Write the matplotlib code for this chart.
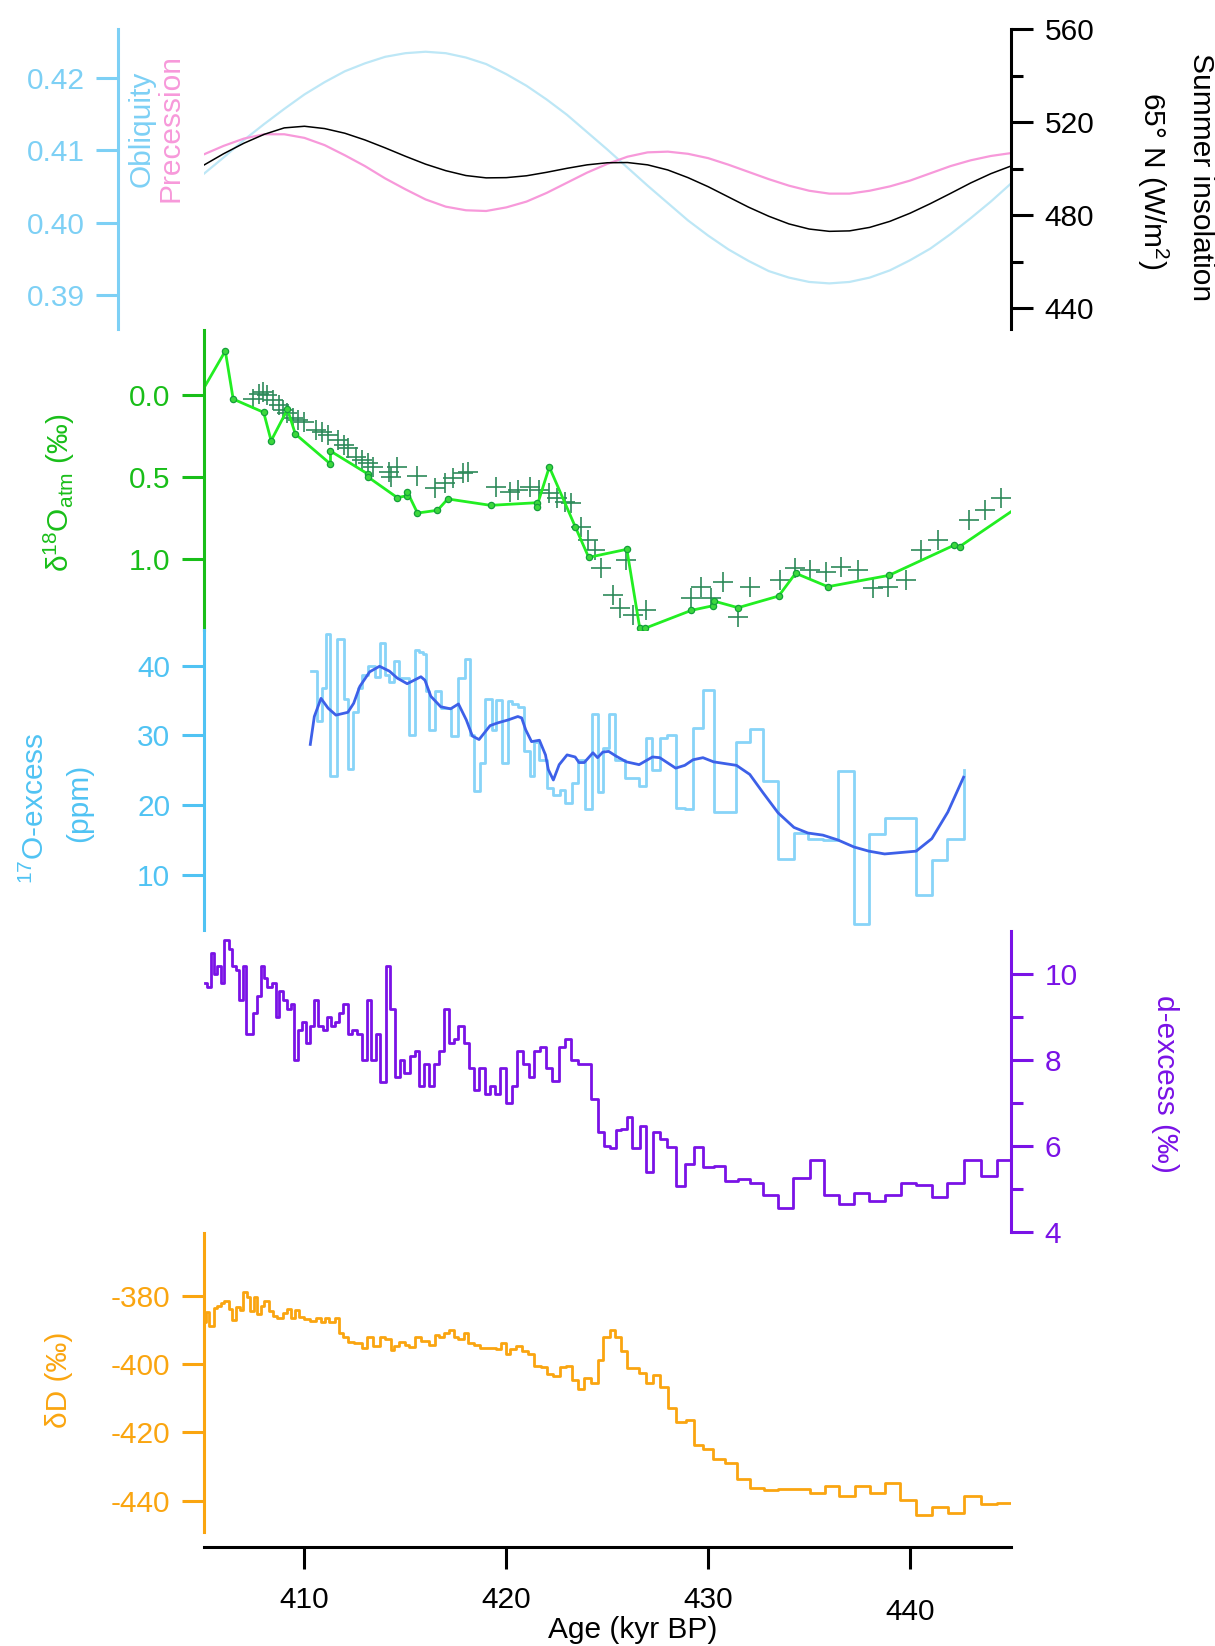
import matplotlib
matplotlib.use("Agg")
import matplotlib.pyplot as plt
import matplotlib.transforms as mtransforms
import numpy as np

plt.rcParams["font.family"] = "Liberation Sans"
plt.rcParams["mathtext.fontset"] = "custom"
plt.rcParams["mathtext.rm"] = "Liberation Sans"
plt.rcParams["mathtext.it"] = "Liberation Sans:italic"
plt.rcParams["mathtext.bf"] = "Liberation Sans:bold"
plt.rcParams["axes.unicode_minus"] = False

# ---- orbital parameters (1 kyr sampling) ----
orb_age = np.arange(405, 446)
obliquity = [0.4067, 0.4090, 0.4114, 0.4136, 0.4157, 0.4177, 0.4194, 0.4209, 0.4220, 0.4229,
             0.4234, 0.4236, 0.4234, 0.4228, 0.4219, 0.4205, 0.4189, 0.4170, 0.4149, 0.4125,
             0.4101, 0.4076, 0.4051, 0.4027, 0.4003, 0.3982, 0.3963, 0.3947, 0.3933, 0.3924,
             0.3918, 0.3916, 0.3918, 0.3924, 0.3934, 0.3948, 0.3964, 0.3984, 0.4006, 0.4029,
             0.4054]
# precession drawn on the obliquity scale (no axis of its own in the figure)
precession = [0.4094, 0.4106, 0.4116, 0.4122, 0.4122, 0.4117, 0.4107, 0.4093, 0.4078, 0.4061,
              0.4046, 0.4032, 0.4022, 0.4017, 0.4016, 0.4021, 0.4029, 0.4041, 0.4055, 0.4069,
              0.4081, 0.4091, 0.4097, 0.4098, 0.4095, 0.4089, 0.4080, 0.4070, 0.4060, 0.4051,
              0.4044, 0.4040, 0.4040, 0.4044, 0.4050, 0.4058, 0.4068, 0.4078, 0.4086, 0.4092,
              0.4096]
insolation = [501.5, 506.5, 511.0, 514.8, 517.6, 518.3, 517.3, 515.3, 512.4, 509.0,
              505.4, 502.0, 499.2, 497.1, 496.1, 496.2, 497.0, 498.5, 500.2, 501.7,
              502.6, 502.7, 501.7, 499.5, 496.2, 492.3, 487.9, 483.5, 479.6, 476.3,
              474.1, 473.1, 473.3, 474.8, 477.4, 480.9, 485.0, 489.4, 493.9, 497.9,
              501.2]

# ---- d18O atm ----
d18_age = [405.0, 406.08, 406.47, 407.98, 408.35, 409.16, 409.55, 411.29, 411.29, 413.17,
           413.17, 414.60, 415.09, 415.09, 415.60, 416.59, 417.10, 419.22, 421.51, 421.51,
           422.13, 423.42, 424.08, 425.97, 426.61, 426.88, 429.17, 430.24, 430.27, 431.48,
           433.49, 434.33, 435.93, 438.95, 442.20, 442.45, 445.0]
d18_val = [-0.04, -0.27, 0.023, 0.104, 0.277, 0.086, 0.236, 0.419, 0.340, 0.482,
           0.500, 0.624, 0.612, 0.588, 0.718, 0.701, 0.632, 0.671, 0.655, 0.679,
           0.437, 0.803, 0.988, 0.939, 1.42, 1.42, 1.311, 1.283, 1.254, 1.295,
           1.224, 1.085, 1.167, 1.098, 0.913, 0.923, 0.710]
cross_age = [407.45, 407.75, 407.94, 408.14, 408.43, 408.73, 408.92, 409.12, 409.41, 409.70,
             410.00, 410.59, 410.88, 411.17, 411.66, 411.96, 412.15, 412.54, 412.84, 413.13,
             413.42, 414.21, 414.60, 414.30, 415.58, 416.46, 416.95, 417.34, 417.83, 418.12,
             419.49, 420.18, 420.57, 421.16, 421.64, 422.13, 422.52, 422.92, 423.21, 423.72,
             424.05, 424.38, 424.71, 425.29, 425.62, 425.95, 426.28, 426.94, 429.17, 429.66,
             430.16, 430.73, 431.48, 432.06, 433.54, 434.28, 435.03, 435.85, 436.59, 437.42,
             438.16, 438.90, 439.81, 440.55, 441.38, 442.94, 443.69, 444.51]
cross_val = [0.025, -0.008, -0.022, -0.002, 0.029, 0.059, 0.090, 0.110, 0.141, 0.151,
             0.161, 0.212, 0.222, 0.242, 0.273, 0.303, 0.324, 0.374, 0.395, 0.415,
             0.435, 0.466, 0.435, 0.496, 0.492, 0.567, 0.537, 0.506, 0.476, 0.466,
             0.557, 0.588, 0.578, 0.557, 0.578, 0.598, 0.628, 0.649, 0.659, 0.801,
             0.882, 0.943, 1.055, 1.218, 1.299, 1.004, 1.340, 1.309, 1.238, 1.167,
             1.238, 1.137, 1.350, 1.167, 1.126, 1.055, 1.065, 1.076, 1.045, 1.065,
             1.177, 1.167, 1.126, 0.943, 0.882, 0.760, 0.700, 0.628]

# ---- 17O-excess ----
o17_age = [410.33, 410.64, 410.88, 411.07, 411.27, 411.60, 411.96, 412.15, 412.41, 412.64,
           412.84, 413.13, 413.52, 413.76, 414.01, 414.21, 414.46, 414.70, 415.19, 415.48,
           415.67, 415.87, 416.00, 416.16, 416.46, 416.75, 417.24, 417.63, 417.93, 418.22,
           418.41, 418.71, 418.96, 419.30, 419.49, 419.78, 420.08, 420.27, 420.57, 420.86,
           421.16, 421.35, 421.64, 422.04, 422.29, 422.65, 422.90, 423.23, 423.56, 423.89,
           424.22, 424.55, 424.79, 425.09, 425.37, 425.87, 426.58, 426.91, 427.24, 427.60,
           427.96, 428.39, 428.84, 429.25, 429.74, 430.27, 431.40, 432.06, 432.71, 433.46,
           434.25, 434.94, 435.68, 436.43, 437.22, 437.96, 438.74, 440.30, 441.08, 441.84,
           442.65]
o17_val = [39.2, 32.0, 36.8, 44.5, 24.2, 43.8, 35.2, 25.2, 33.4, 36.8,
           38.7, 40.0, 38.3, 43.3, 38.7, 37.6, 40.6, 38.2, 30.1, 42.2,
           41.9, 41.7, 36.3, 30.7, 36.3, 33.9, 29.9, 38.2, 41.0, 30.1,
           22.0, 26.0, 35.2, 30.8, 35.0, 26.0, 34.9, 34.5, 34.0, 27.7,
           24.2, 29.0, 26.5, 22.5, 21.5, 22.2, 20.3, 23.2, 26.5, 19.4,
           33.0, 21.9, 28.2, 33.1, 26.5, 23.9, 22.7, 29.6, 25.1, 29.6,
           30.1, 19.6, 19.4, 31.0, 36.5, 19.0, 29.1, 30.9, 23.4, 12.3,
           16.0, 15.2, 15.0, 24.9, 3.0, 15.8, 18.2, 7.1, 12.1, 15.1,
           25.1]
o17s_age = [410.29, 410.49, 410.82, 411.17, 411.56, 412.15, 412.44, 412.74, 413.23, 413.72,
            414.21, 414.60, 415.09, 415.77, 415.97, 416.26, 416.75, 417.24, 417.63, 418.02,
            418.32, 418.65, 419.20, 419.59, 420.08, 420.57, 420.76, 420.96, 421.25, 421.64,
            421.94, 422.08, 422.33, 422.62, 423.01, 423.41, 423.60, 423.86, 424.29, 424.52,
            424.78, 425.07, 425.45, 425.95, 426.58, 427.24, 427.60, 428.39, 428.84, 429.25,
            429.74, 430.27, 431.40, 432.06, 432.71, 433.46, 434.25, 434.94, 435.68, 436.43,
            437.22, 437.96, 438.74, 440.30, 441.08, 441.87, 442.65]
o17s_val = [28.7, 32.7, 35.3, 33.9, 32.9, 33.3, 34.6, 37.0, 39.1, 39.9,
            39.2, 38.2, 37.4, 38.4, 37.9, 35.6, 34.1, 33.8, 34.5, 32.2,
            29.9, 29.4, 31.4, 31.8, 32.2, 32.7, 32.5, 30.8, 29.1, 29.3,
            27.2, 25.1, 23.6, 25.8, 27.2, 26.9, 26.1, 26.1, 27.5, 26.8,
            27.6, 27.7, 27.0, 26.2, 25.8, 26.9, 26.8, 25.3, 25.7, 26.5,
            26.8, 26.2, 25.7, 24.4, 21.8, 18.9, 16.8, 16.0, 15.7, 15.0,
            14.0, 13.4, 13.0, 13.4, 15.2, 19.0, 24.0]

# ---- d-excess ----
dex_age = [405.07, 405.16, 405.36, 405.54, 405.69, 405.85, 406.03, 406.26, 406.43, 406.61,
           406.77, 406.94, 407.10, 407.47, 407.67, 407.83, 408.01, 408.16, 408.37, 408.59,
           408.75, 408.95, 409.15, 409.32, 409.48, 409.69, 409.86, 410.06, 410.27, 410.47,
           410.69, 410.90, 411.10, 411.30, 411.51, 411.72, 411.92, 412.14, 412.38, 412.58,
           412.83, 413.08, 413.29, 413.54, 413.74, 414.02, 414.23, 414.48, 414.73, 414.94,
           415.22, 415.47, 415.68, 415.93, 416.18, 416.43, 416.67, 416.92, 417.17, 417.40,
           417.61, 417.90, 418.13, 418.39, 418.65, 418.93, 419.18, 419.43, 419.71, 419.97,
           420.26, 420.55, 420.83, 421.11, 421.36, 421.66, 421.95, 422.27, 422.61, 422.90,
           423.22, 423.55, 424.20, 424.54, 424.84, 425.14, 425.44, 425.68, 426.00, 426.25,
           426.61, 426.91, 427.25, 427.61, 427.95, 428.41, 428.85, 429.29, 429.75, 430.30,
           430.82, 431.46, 432.06, 432.72, 433.46, 434.22, 435.03, 435.73, 436.47, 437.23,
           437.97, 438.74, 439.54, 440.28, 441.08, 441.84, 442.69, 443.49, 444.29, 445.0]
dex_val = [9.78, 9.69, 10.49, 10.00, 10.19, 9.79, 10.79, 10.58, 10.19, 10.08,
           9.40, 10.19, 8.59, 9.09, 9.48, 10.19, 9.90, 9.69, 9.79, 8.99,
           9.59, 9.40, 9.19, 9.29, 8.00, 8.69, 8.89, 8.39, 8.79, 9.40,
           8.79, 8.69, 8.99, 8.79, 8.89, 9.09, 9.29, 8.59, 8.69, 8.59,
           8.00, 9.40, 8.00, 8.59, 7.49, 10.19, 9.19, 7.60, 8.00, 7.70,
           8.10, 8.20, 7.39, 7.90, 7.39, 7.90, 8.20, 9.19, 8.39, 8.49,
           8.79, 8.39, 7.81, 7.29, 7.81, 7.20, 7.39, 7.20, 7.81, 7.00,
           7.39, 8.20, 7.90, 7.60, 8.20, 8.30, 7.81, 7.50, 8.30, 8.49,
           8.00, 7.91, 7.10, 6.33, 5.99, 5.94, 6.37, 6.40, 6.67, 5.94,
           6.47, 5.40, 6.32, 6.17, 5.98, 5.07, 5.59, 5.98, 5.51, 5.53,
           5.18, 5.22, 5.15, 4.86, 4.55, 5.26, 5.67, 4.86, 4.66, 4.90,
           4.72, 4.86, 5.13, 5.10, 4.82, 5.15, 5.67, 5.30, 5.67, 5.67]

# ---- dD ----
dD_age = [405.01, 405.10, 405.26, 405.50, 405.65, 405.89, 406.04, 406.24, 406.40, 406.63,
          406.79, 406.94, 407.16, 407.30, 407.49, 407.65, 407.84, 408.00, 408.24, 408.43,
          408.63, 408.92, 409.12, 409.31, 409.51, 409.71, 410.00, 410.29, 410.59, 410.82,
          411.02, 411.21, 411.52, 411.72, 411.92, 412.15, 412.44, 412.84, 413.09, 413.42,
          413.76, 414.01, 414.27, 414.46, 414.70, 414.99, 415.18, 415.48, 415.77, 416.16,
          416.46, 416.69, 416.89, 417.14, 417.40, 417.63, 417.92, 418.12, 418.41, 418.71,
          419.20, 419.49, 419.75, 419.98, 420.18, 420.47, 420.76, 421.06, 421.35, 421.70,
          422.04, 422.33, 422.68, 422.96, 423.27, 423.54, 423.84, 424.20, 424.54, 424.78,
          425.14, 425.40, 425.68, 425.99, 426.55, 426.91, 427.29, 427.61, 427.99, 428.41,
          428.89, 429.29, 429.75, 430.25, 430.82, 431.42, 432.06, 432.76, 433.46, 434.27,
          435.03, 435.77, 436.47, 437.27, 438.04, 438.78, 439.52, 440.28, 441.08, 441.88,
          442.69, 443.49, 444.29, 445.0]
dD_val = [-387.5, -384.6, -388.8, -383.6, -382.9, -382.1, -381.5, -383.9, -387.0, -383.3,
          -384.1, -378.7, -380.2, -384.3, -380.4, -385.1, -382.9, -381.4, -384.3, -385.9,
          -386.3, -384.9, -383.9, -386.5, -384.1, -386.1, -386.8, -387.2, -386.4, -387.5,
          -386.3, -387.5, -386.5, -390.8, -391.9, -393.4, -393.7, -395.3, -392.1, -394.7,
          -391.9, -392.7, -395.8, -394.6, -393.4, -394.4, -394.9, -391.9, -393.2, -394.4,
          -391.4, -391.9, -390.8, -389.8, -392.1, -392.7, -390.7, -393.7, -394.4, -395.3,
          -395.1, -395.6, -393.7, -397.0, -395.6, -394.7, -396.1, -397.0, -400.4, -400.7,
          -402.9, -403.5, -400.9, -400.5, -404.6, -407.1, -403.9, -405.4, -398.8, -391.9,
          -390.0, -391.9, -396.1, -401.0, -402.5, -405.6, -403.0, -406.6, -412.7, -416.9,
          -416.4, -423.7, -424.7, -427.9, -428.9, -433.5, -436.4, -436.9, -436.7, -436.6,
          -437.7, -435.7, -438.5, -435.7, -437.7, -434.7, -439.8, -444.2, -441.8, -443.7,
          -438.6, -441.1, -440.8, -440.8]

# ---- colours ----
OBL_AX = "#7DD0F5"
OBL_LINE = "#BDE7F6"
PREC = "#F799DA"
GREEN_AX = "#19BE19"
GREEN_LINE = "#22EE22"
CROSS = "#2E8A5A"
O17_AX = "#50C3F3"
O17_STEP = "#88D4F8"
O17_SMOOTH = "#3D60E8"
PURPLE = "#7A12E6"
ORANGE = "#FAA510"

W, H = 1215, 1646
LEFT, RIGHT = 203.5, 1011.0
FS = 21.5


def rect(top, bottom):
    return [LEFT / W, 1 - bottom / H, (RIGHT - LEFT) / W, (bottom - top) / H]


def setup(ax, side, color):
    for s in ax.spines.values():
        s.set_visible(False)
    sp = ax.spines[side]
    sp.set_visible(True)
    sp.set_color(color)
    sp.set_linewidth(2.2)
    ax.tick_params(axis="y", which="both", left=(side == "left"), right=(side == "right"),
                   labelleft=(side == "left"), labelright=(side == "right"),
                   colors=color, direction="out", width=2.2, labelsize=FS, pad=8.5)
    ax.tick_params(axis="y", which="major", length=15.5)
    ax.tick_params(axis="y", which="minor", length=8.5)
    ax.tick_params(axis="x", which="both", bottom=False, top=False,
                   labelbottom=False, labeltop=False)
    ax.set_xlim(405, 445)
    ax.patch.set_visible(False)


def fig_label(x, y, s, color, rot):
    fig.text(x / W, 1 - y / H, s, color=color, fontsize=FS, rotation=rot,
             ha="center", va="center")


fig = plt.figure(figsize=(W / 100, H / 100), dpi=100)

# panel 1: orbital forcing
ax_obl = fig.add_axes(rect(29.3, 329))
setup(ax_obl, "left", OBL_AX)
ax_obl.spines["left"].set_position(("outward", 61.2))
ax_obl.set_ylim(0.3853, 0.4267)
ax_obl.set_yticks([0.39, 0.40, 0.41, 0.42])
ax_obl.set_yticklabels([f"{v:.2f}" for v in [0.39, 0.40, 0.41, 0.42]])
ax_obl.plot(orb_age, obliquity, color=OBL_LINE, lw=1.6)
ax_obl.plot(orb_age, precession, color=PREC, lw=1.6)

ax_ins = ax_obl.twinx()
setup(ax_ins, "right", "black")
ax_ins.set_ylim(431.1, 560)
ax_ins.set_yticks([440, 480, 520, 560])
ax_ins.set_yticks([460, 500, 540], minor=True)
ax_ins.plot(orb_age, insolation, color="black", lw=1.1)

# panel 2: d18O atm (inverted axis)
ax_d18 = fig.add_axes(rect(330, 630))
setup(ax_d18, "left", GREEN_AX)
ax_d18.set_ylim(1.431, -0.398)
ax_d18.set_yticks([0.0, 0.5, 1.0])
ax_d18.set_yticklabels(["0.0", "0.5", "1.0"])
ax_d18.plot(cross_age, cross_val, ls="none", marker="+", ms=14.5, mew=1.2, color=CROSS)
ax_d18.plot(d18_age, d18_val, color=GREEN_LINE, lw=2.0, marker="o", ms=4.5,
            mfc="#3CD83C", mec="#13A03A", mew=0.9,
            markevery=list(range(1, len(d18_age) - 1)))

# panel 3: 17O-excess
ax_o17 = fig.add_axes(rect(630, 930))
setup(ax_o17, "left", O17_AX)
ax_o17.set_ylim(2.1, 45.1)
ax_o17.set_yticks([10, 20, 30, 40])
ax_o17.step(o17_age, o17_val, where="post", color=O17_STEP, lw=2.0)
ax_o17.plot(o17s_age, o17s_val, color=O17_SMOOTH, lw=2.0)

# panel 4: d-excess
ax_dex = fig.add_axes(rect(930.7, 1232))
setup(ax_dex, "right", PURPLE)
ax_dex.set_ylim(4, 11)
ax_dex.set_yticks([4, 6, 8, 10])
ax_dex.set_yticks([5, 7, 9], minor=True)
ax_dex.step(dex_age, dex_val, where="post", color=PURPLE, lw=2.0)

# panel 5: dD with the age axis
ax_dD = fig.add_axes(rect(1232.7, 1531.7))
setup(ax_dD, "left", ORANGE)
ax_dD.set_ylim(-449.1, -361.4)
ax_dD.set_yticks([-440, -420, -400, -380])
ax_dD.step(dD_age, dD_val, where="post", color=ORANGE, lw=2.0)
bsp = ax_dD.spines["bottom"]
bsp.set_visible(True)
bsp.set_color("black")
bsp.set_linewidth(2.2)
bsp.set_position(("outward", 10.8))
ax_dD.set_xticks([410, 420, 430, 440])
ax_dD.tick_params(axis="x", which="major", bottom=True, labelbottom=True, direction="out",
                  length=15.5, width=2.2, colors="black", labelsize=FS, pad=13)
offset = mtransforms.ScaledTranslation(0, -12 / 100, fig.dpi_scale_trans)
lab440 = ax_dD.get_xticklabels()[3]
lab440.set_transform(lab440.get_transform() + offset)

# axis titles
fig_label(141.7, 129, "Obliquity", OBL_AX, 90)
fig_label(170.5, 128.5, "Precession", PREC, 90)
fig_label(1201, 177.5, "Summer insolation", "black", 270)
fig_label(1153, 180.5, "65° N (W/m$^2$)", "black", 270)
fig_label(59, 493, "δ$^{18}$O$_{\\mathrm{atm}}$ (‰)", GREEN_AX, 90)
fig_label(35.6, 808, "$^{17}$O-excess", O17_AX, 90)
fig_label(79, 803, "(ppm)", O17_AX, 90)
fig_label(1165, 1084, "d-excess (‰)", PURPLE, 270)
fig_label(59, 1379.5, "δD (‰)", ORANGE, 90)
fig_label(633, 1630, "Age (kyr BP)", "black", 0)

fig.savefig("out.png", dpi=100)
